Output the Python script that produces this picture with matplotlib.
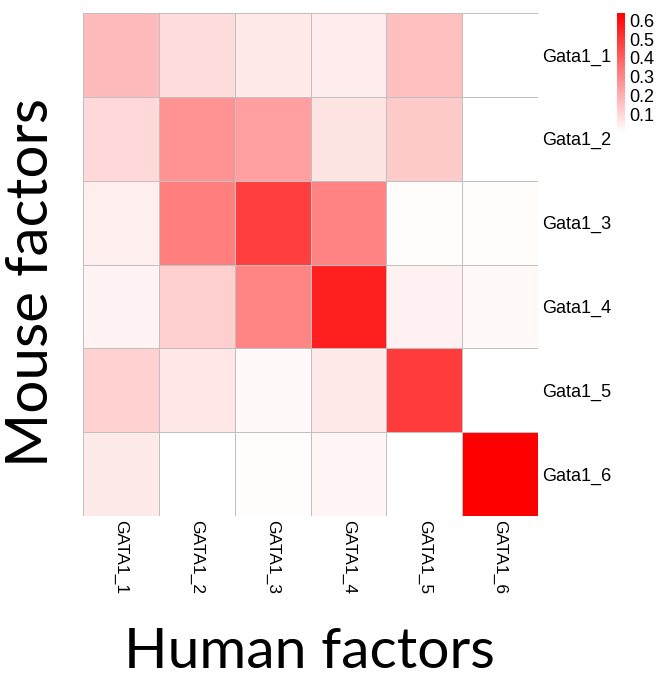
import numpy as np
import matplotlib
matplotlib.use("Agg")
import matplotlib.pyplot as plt
from matplotlib.colors import LinearSegmentedColormap

human_factors = ["GATA1_1", "GATA1_2", "GATA1_3", "GATA1_4", "GATA1_5", "GATA1_6"]
mouse_factors = ["Gata1_1", "Gata1_2", "Gata1_3", "Gata1_4", "Gata1_5", "Gata1_6"]

# rows = mouse factors, columns = human factors
gata1_1 = [0.17, 0.088, 0.055, 0.048, 0.16, 0.0]
gata1_2 = [0.095, 0.27, 0.24, 0.068, 0.133, 0.0]
gata1_3 = [0.043, 0.32, 0.48, 0.31, 0.008, 0.008]
gata1_4 = [0.03, 0.123, 0.306, 0.56, 0.035, 0.015]
gata1_5 = [0.115, 0.06, 0.015, 0.055, 0.49, 0.0]
gata1_6 = [0.053, 0.0, 0.008, 0.025, 0.0, 0.64]

cbar_ticks = [0.1, 0.2, 0.3, 0.4, 0.5, 0.6]

values = np.array([gata1_1, gata1_2, gata1_3, gata1_4, gata1_5, gata1_6])
white_red = LinearSegmentedColormap.from_list("white_red", ["#ffffff", "#ff0000"])

fig = plt.figure(figsize=(6.57, 6.77), dpi=100)
ax = fig.add_axes([83 / 657, 1 - 516 / 677, 455 / 657, 503 / 677])

mesh = ax.pcolormesh(values, cmap=white_red, vmin=0, vmax=values.max(),
                     edgecolors="#c0c0c0", linewidth=0.7)
ax.set_xlim(0, 6)
ax.set_ylim(6, 0)
for side in ax.spines.values():
    side.set_visible(False)

ax.set_xticks(np.arange(6) + 0.5)
ax.set_xticklabels(human_factors, rotation=270, fontsize=12.5,
                   family="Liberation Sans", va="top")
ax.set_yticks(np.arange(6) + 0.5)
ax.set_yticklabels(mouse_factors, fontsize=13, family="Liberation Sans")
ax.yaxis.tick_right()
ax.tick_params(length=0, pad=3)

cax = fig.add_axes([617 / 657, 1 - 133 / 677, 8 / 657, 120 / 677])
cb = fig.colorbar(mesh, cax=cax, ticks=cbar_ticks)
cb.outline.set_visible(False)
cb.ax.tick_params(length=0, pad=3, labelsize=13)
for lab in cb.ax.get_yticklabels():
    lab.set_family("Liberation Sans")

fig.text(309 / 657, 1 - 652 / 677, "Human factors", fontsize=41, family="Lato",
         ha="center", va="center")
fig.text(32 / 657, 1 - 282 / 677, "Mouse factors", fontsize=42, family="Lato",
         ha="center", va="center", rotation=90)

fig.savefig("out.png", dpi=100)
